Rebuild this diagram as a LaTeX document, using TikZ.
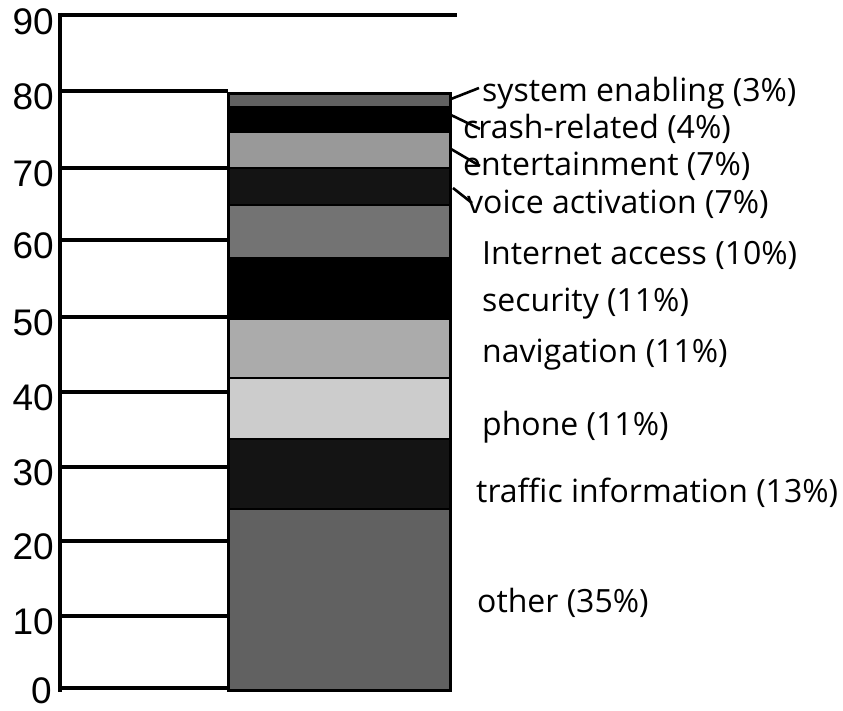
\documentclass[tikz,border=0pt]{standalone}
\usepackage{fontspec}
\setmainfont{Open Sans}
\newfontfamily\axisfont{Liberation Sans}
\begin{document}
\begin{tikzpicture}[x=1pt,y=-1pt]
\tikzset{
  grid/.style={line width=3.2pt},
  axisline/.style={line width=4.4pt},
  tick/.style={font=\axisfont\fontsize{37}{37}\selectfont, anchor=east, inner sep=0pt},
  seg/.style={draw=black, line width=2pt},
  lab/.style={font=\fontsize{32}{32}\selectfont, anchor=base west, inner sep=0pt},
  leader/.style={line width=2.6pt}
}
\useasboundingbox (0,0) rectangle (843,711);
% gridlines
\foreach \v/\yy in {10/616,20/541,30/467,40/392,50/317,60/240,70/168,80/91}{
  \coordinate (g\v) at (60,\yy);
  \coordinate (h\v) at (228,\yy);
  \draw[grid] (g\v) -- (h\v);
  \node[tick] (t\v) at (54,\yy+6) {\v};
}
\coordinate (g0) at (60,688);
\coordinate (h0) at (228,688);
\draw[grid] (g0) -- (h0);
\node[tick] (t0) at (52,691) {0};
\coordinate (g90) at (60,15);
\coordinate (h90) at (457,15);
\draw[grid] (g90) -- (h90);
\node[tick] (t90) at (54,22) {90};
% axis
\coordinate (atop) at (60,13);
\coordinate (abot) at (60,692);
\draw[axisline] (atop) -- (abot);
% bar segments
\draw[seg, fill=black!62] (228,509) rectangle (450,690);
\draw[seg, fill=black!92] (228,439) rectangle (450,509);
\draw[seg, fill=black!20] (228,378) rectangle (450,439);
\draw[seg, fill=black!33] (228,319) rectangle (450,378);
\draw[seg, fill=black] (228,258) rectangle (450,319);
\draw[seg, fill=black!55] (228,205) rectangle (450,258);
\draw[seg, fill=black!92] (228,168) rectangle (450,205);
\draw[seg, fill=black!40] (228,132) rectangle (450,168);
\draw[seg, fill=black] (228,107) rectangle (450,132);
\draw[seg, fill=black!62] (228,94) rectangle (450,107);
\draw[line width=3pt] (228,94) rectangle (450,690);
% labels
\node[lab] (ls) at (482,102) {system enabling (3\%)};
\node[lab] (lc) at (463,139) {crash-related (4\%)};
\node[lab] (le) at (463,176) {entertainment (7\%)};
\node[lab] (lv) at (467,214) {voice activation (7\%)};
\node[lab] (li) at (482,265) {Internet access (10\%)};
\node[lab] (lse) at (482,311) {security (11\%)};
\node[lab] (ln) at (482,362) {navigation (11\%)};
\node[lab] (lp) at (482,435) {phone (11\%)};
\node[lab] (lt) at (476,502) {traffic information (13\%)};
\node[lab] (lo) at (477,612) {other (35\%)};
% leaders
\coordinate (bs) at (451,99);  \coordinate (es) at (479,88);
\coordinate (bc) at (451,115); \coordinate (ec) at (480,129);
\coordinate (be) at (451,149); \coordinate (ee) at (480,166);
\coordinate (bv) at (453,188); \coordinate (ev) at (472,203);
\draw[leader] (bs) -- (es);
\draw[leader] (bc) -- (ec);
\draw[leader] (be) -- (ee);
\draw[leader] (bv) -- (ev);
\end{tikzpicture}
\end{document}
